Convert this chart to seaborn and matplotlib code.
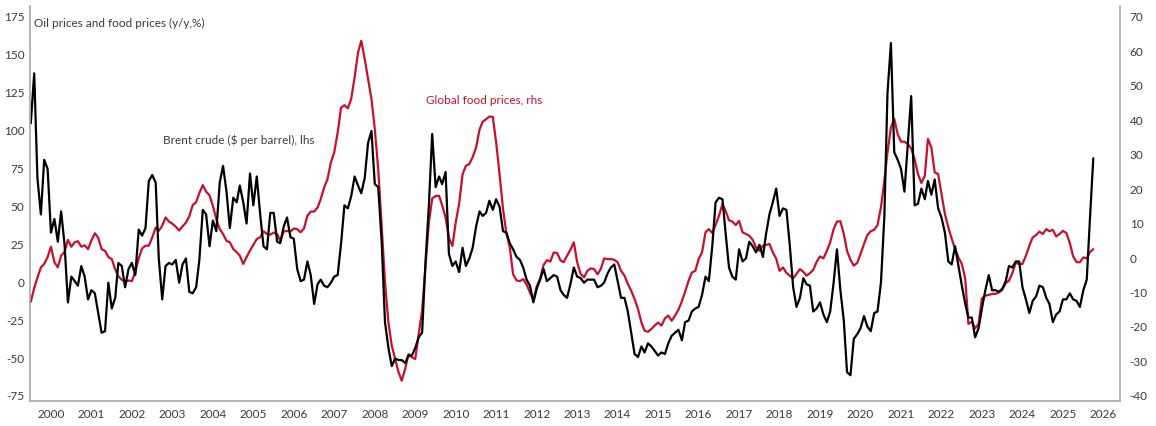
import numpy as np
import pandas as pd
import matplotlib
matplotlib.use("Agg")
import matplotlib.pyplot as plt
import matplotlib.dates as mdates
import seaborn as sns

# monthly y/y %, Jan 2000 - Apr 2026
brent = [
    104, 137, 68, 44, 80, 74, 32, 41, 26, 46, 24, -14,
    3, 0, -3, 10, 3, -12, -6, -8, -21, -34, -33, -1,
    -18, -11, 12, 10, -4, 8, 12, 4, 34, 30, 35, 66,
    70, 65, 15, -12, 10, 12, 11, 14, -1, 11, 15, -7,
    -8, -4, 14, 47, 44, 23, 40, 33, 65, 76, 59, 35,
    55, 52, 63, 52, 38, 71, 50, 69, 44, 23, 21, 45,
    45, 26, 25, 36, 42, 29, 28, 8, 0, 1, 13, 4,
    -15, -2, 1, -3, -4, -1, 3, 4, 25, 50, 48, 56,
    69, 63, 58, 68, 91, 99, 64, 62, 26, -27, -44, -56,
    -51, -52, -52, -54, -49, -49, -44, -37, -34, 12, 50, 97,
    62, 69, 64, 72, 18, 10, 13, 6, 22, 10, 15, 22,
    36, 46, 43, 45, 53, 47, 54, 49, 33, 32, 25, 21,
    16, 14, 9, 1, -3, -14, -5, 1, 8, 0, 2, 4,
    3, -6, -9, -11, -2, 9, 3, 2, -1, 1, 1, 1,
    -4, -3, -1, 5, 9, 11, 0, -11, -11, -20, -34, -48,
    -50, -43, -47, -41, -43, -46, -49, -47, -48, -41, -36, -34,
    -32, -39, -27, -26, -20, -18, -17, -9, 3, 0, 23, 52,
    55, 54, 32, 9, 3, 1, 21, 13, 15, 26, 23, 19,
    24, 16, 31, 44, 52, 61, 43, 48, 47, 24, -4, -17,
    -11, 2, -2, -3, -20, -18, -14, -22, -27, -20, -1, 21,
    -6, -26, -60, -62, -38, -35, -31, -23, -30, -33, -21, -20,
    -1, 43, 124, 157, 85, 80, 74, 59, 91, 122, 50, 51,
    61, 54, 66, 57, 67, 48, 42, 32, 13, 11, 23, 10,
    -3, -15, -24, -24, -37, -31, -18, -6, 4, -6, -6, -7,
    -5, 0, 10, 9, 13, 13, -4, -12, -21, -13, -10, -3,
    -4, -11, -15, -27, -22, -20, -12, -12, -8, -12, -13, -17,
    -6, 1, 40, 81,
]

food = [
    -13, -9, -6, -3, -2, 0, 3, -1.5, -3, 0.4, 1.5, 5,
    3, 4.3, 4.6, 3, 3.4, 2.3, 4.8, 6.9, 5.6, 2.3, 1.8, 0,
    -0.6, -3.6, -5.6, -6.6, -7.2, -6.8, -7, -4.3, -0.4, 2.5, 3.3, 3.3,
    5.7, 8.6, 7.6, 9.1, 11.5, 10.3, 9.7, 8.8, 7.7, 8.9, 10, 11.8,
    15.1, 15.9, 18.6, 20.9, 19, 17.9, 14.9, 11, 8.1, 6.7, 4.7, 4.3,
    2.3, 1.4, 0.4, -2, 0, 1.9, 3.5, 5.2, 5.8, 7.5, 6.7, 6.5,
    7.1, 6.7, 4.7, 7.4, 7.6, 7.4, 8.3, 8.1, 7.2, 8.3, 12, 13.2,
    13.2, 14.4, 16.8, 20.2, 22.6, 27.5, 30.4, 36.2, 43.4, 44.1, 43.2, 45.9,
    52.2, 59.4, 62.8, 57.5, 51.7, 45.9, 37.2, 25.5, 9.1, -7.4, -19, -25.7,
    -29.6, -33.5, -35.9, -32.5, -28.2, -29.1, -29.6, -22.4, -15.5, -3, 10, 17,
    17.7, 17.8, 15, 11.5, 5.5, 3.2, 10, 15.5, 24, 26.5, 27, 29,
    31.8, 37, 39.3, 40, 40.8, 40.7, 33.3, 24, 14, 7, 2.8, -5,
    -6.8, -7, -6.4, -8, -10.3, -12.5, -8.5, -6.2, -2.3, -0.9, -1.3, 1.3,
    1.2, -1, -1.5, 0.4, 2.1, 4.3, -1.5, -4.9, -5.9, -4, -3.3, -3.5,
    -5, -3.3, -0.4, -0.6, -0.6, -0.8, -1.5, -4, -5.4, -7.8, -9.8, -12.2,
    -15.1, -19, -21.4, -21.7, -20.9, -19.9, -19, -19.9, -17.8, -17, -18.5, -17,
    -15.3, -12.8, -10.1, -6.9, -4.5, -4, -0.6, 1.4, 7.2, 8.1, 7, 9.3,
    12, 15.4, 13.4, 10.7, 10.3, 9.3, 10.5, 7.2, 6.7, 6.2, 5, 2.8,
    1.8, 3.3, 3.5, 3.8, 1.4, -0.5, -4, -3, -4.6, -5.4, -6.2, -4.9,
    -3.5, -4.3, -5.4, -4.7, -3.7, -1.4, 0.2, -0.4, 1.8, 4.3, 8.1, 10.3,
    10.4, 6.7, 1.8, -0.8, -2.5, -1.7, 0.9, 3.8, 6.4, 7.5, 7.9, 9.3,
    14.4, 22.2, 30.4, 37.6, 40.1, 35.7, 33.5, 33.5, 32.8, 31.5, 28.4, 24.1,
    21.5, 23.6, 34.3, 31.8, 24.6, 24.1, 18.3, 12.5, 8.6, 5.4, 2.3, -0.1,
    -2, -6.4, -19.4, -18.8, -20.7, -19.4, -12, -11.2, -11, -10.7, -10.7, -10.3,
    -9.5, -7.5, -6.9, -4.6, -1.7, -2, -2, 0.4, 3.3, 5.7, 6.4, 7.4,
    6.7, 8.1, 7.5, 7.9, 6, 6.7, 7.6, 7, 4.1, 0.2, -1.5, -1.5,
    -0.1, -0.4, 1.4, 2.3,
]

years = list(range(2000, 2027))
left_ticks = list(range(-75, 176, 25))
right_ticks = list(range(-40, 71, 10))

dates = pd.date_range("2000-01-01", periods=len(brent), freq="MS")
df = pd.DataFrame({"date": dates, "brent": brent, "food": food})

sns.set_style("white")
plt.rcParams["font.family"] = ["Lato", "DejaVu Sans"]
plt.rcParams["axes.unicode_minus"] = False

txt = "#3a3a3a"
red = "#c8102e"
grey = "#a8a8a8"

fig = plt.figure(figsize=(11.56, 4.27), dpi=100)
ax = fig.add_axes([30 / 1156, 25 / 427, 1090 / 1156, 395 / 427])
ax2 = ax.twinx()

sns.lineplot(data=df, x="date", y="food", ax=ax2, color=red, linewidth=1.6)
sns.lineplot(data=df, x="date", y="brent", ax=ax, color="black", linewidth=1.6)

ax.set_zorder(ax2.get_zorder() + 1)
ax.patch.set_visible(False)

ax.set_ylim(-79, 181.4)
ax2.set_ylim(-41.8, 72.9)
ax.set_yticks(left_ticks)
ax2.set_yticks(right_ticks)
ax.set_xlim(pd.Timestamp("1999-12-25"), pd.Timestamp("2026-11-28"))
ax.set_xticks([pd.Timestamp(f"{y}-07-01") for y in years])
ax.set_xticklabels([str(y) for y in years])

for a in (ax, ax2):
    a.set_xlabel("")
    a.set_ylabel("")
    for s in a.spines.values():
        s.set_color(grey)
        s.set_linewidth(1.2)
    a.spines["top"].set_visible(False)
ax.spines["right"].set_visible(False)
ax2.spines["left"].set_visible(False)
ax2.spines["bottom"].set_visible(False)

ax.tick_params(axis="both", length=0, labelsize=8.5, colors=txt)
ax.tick_params(axis="y", pad=4)
ax.tick_params(axis="x", pad=5)
ax2.tick_params(axis="y", length=0, labelsize=8.5, colors=txt, pad=7)

fig.text(34 / 1156, 1 - 23 / 427, "Oil prices and food prices (y/y,%)",
         fontsize=8.5, color=txt, va="center", ha="left")
fig.text(163 / 1156, 1 - 140 / 427, "Brent crude ($ per barrel), lhs",
         fontsize=8.5, color=txt, va="center", ha="left")
fig.text(426 / 1156, 1 - 100 / 427, "Global food prices, rhs",
         fontsize=8.5, color=red, va="center", ha="left")

fig.savefig("out.png", dpi=100)
